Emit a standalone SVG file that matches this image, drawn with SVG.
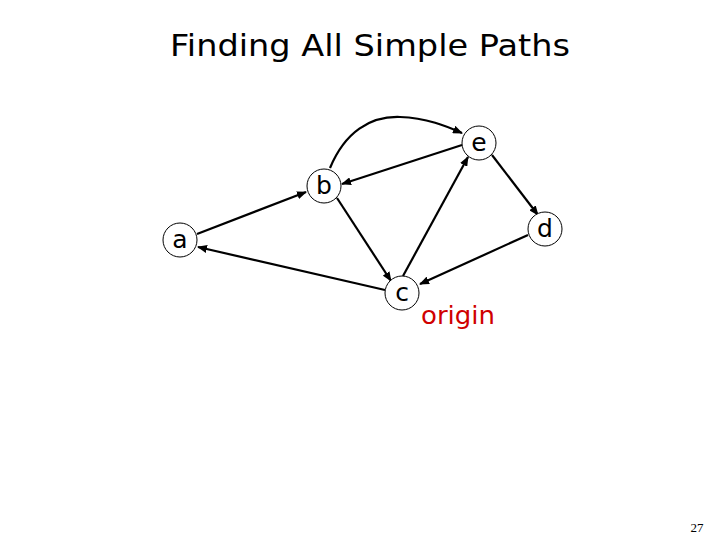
<svg xmlns="http://www.w3.org/2000/svg" width="720" height="540" viewBox="0 0 720 540">
<style>
.node circle{fill:#fff;stroke:#000;stroke-width:1}
.node text{font-family:"Comic Sans MS","DejaVu Sans",sans-serif;font-size:25px;text-anchor:middle;fill:#000}
.edge{stroke:#000;stroke-width:2.2;fill:none;marker-end:url(#arr)}
</style>
<defs>
<marker id="arr" markerWidth="10" markerHeight="8" refX="9" refY="4" orient="auto" markerUnits="userSpaceOnUse">
<path d="M0,0 L10,4 L0,8 z" fill="#000"/>
</marker>
</defs>
<rect width="720" height="540" fill="#fff"/>
<text x="370" y="56" font-family="'Comic Sans MS','DejaVu Sans',sans-serif" font-size="31" text-anchor="middle" textLength="400" lengthAdjust="spacingAndGlyphs">Finding All Simple Paths</text>
<g id="connectors">
<line class="edge" x1="197" y1="234" x2="306" y2="192"/>
<line class="edge" x1="385" y1="290" x2="198" y2="247"/>
<line class="edge" x1="337" y1="198" x2="391" y2="281"/>
<line class="edge" x1="403" y1="276" x2="468" y2="157"/>
<line class="edge" x1="462" y1="145" x2="342" y2="184"/>
<path class="edge" d="M330,168 C345,132 370,116 400,117 C428,118 448,127 462,133"/>
<line class="edge" x1="492" y1="155" x2="538" y2="215"/>
<line class="edge" x1="528" y1="235" x2="420" y2="284"/>
</g>
<g id="node-a" class="node"><circle cx="180" cy="240" r="17"/><text x="180" y="248">a</text></g>
<g id="node-b" class="node"><circle cx="324" cy="186" r="17"/><text x="324" y="194">b</text></g>
<g id="node-e" class="node"><circle cx="479" cy="143" r="17"/><text x="479" y="151">e</text></g>
<g id="node-d" class="node"><circle cx="545" cy="229" r="17"/><text x="545" y="237">d</text></g>
<g id="node-c" class="node"><circle cx="402" cy="293" r="17"/><text x="402" y="301">c</text></g>
<text x="421" y="324" font-family="'Comic Sans MS','DejaVu Sans',sans-serif" font-size="24" fill="#d00000" textLength="74" lengthAdjust="spacingAndGlyphs">origin</text>
<text x="697" y="532" font-family="'Liberation Serif',serif" font-size="13" text-anchor="middle">27</text>
</svg>
